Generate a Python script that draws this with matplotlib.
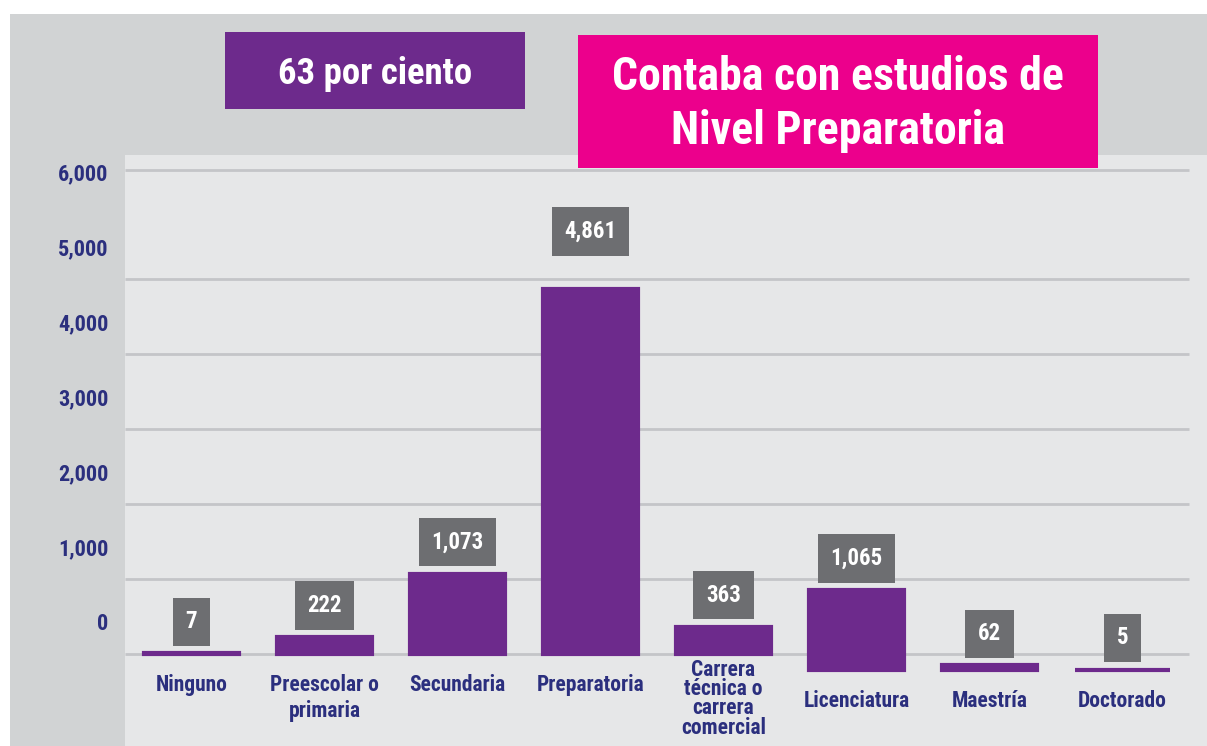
import matplotlib
matplotlib.use("Agg")
import matplotlib.pyplot as plt
from matplotlib.patches import Rectangle
from matplotlib.transforms import ScaledTranslation
from matplotlib import font_manager
import numpy as np

# ---- data ----
categories = ["Ninguno", "Preescolar o\nprimaria", "Secundaria", "Preparatoria",
              "Carrera\ntécnica o\ncarrera\ncomercial", "Licenciatura", "Maestría", "Doctorado"]
values = [7, 222, 1073, 4861, 363, 1065, 62, 5]
value_labels = ["7", "222", "1,073", "4,861", "363", "1,065", "62", "5"]
ytick_values = [0, 1000, 2000, 3000, 4000, 5000, 6000]
ytick_labels = ["0", "1,000", "2,000", "3,000", "4,000", "5,000", "6,000"]
badge_text = "63 por ciento"
headline_text = "Contaba con estudios de\nNivel Preparatoria"

# ---- style ----
names = {f.name for f in font_manager.fontManager.ttflist}
FONT = "DejaVu Sans"
for cand in ["Roboto Condensed", "Liberation Sans Narrow", "Open Sans Condensed",
             "DejaVu Sans Condensed", "Noto Sans Condensed", "Roboto"]:
    if cand in names:
        FONT = cand
        break
plt.rcParams["font.family"] = [FONT, "DejaVu Sans"]

W, H = 1207, 746
PURPLE = "#6d2a8c"
PINK = "#ec008c"
NAVY = "#2b2f7e"
DARK_GRAY = "#d1d3d4"
LIGHT_GRAY = "#e6e7e8"
BOX_GRAY = "#6d6e71"
GRID = "#c4c5c8"

fig = plt.figure(figsize=(W / 100, H / 100), dpi=100)
fig.patch.set_facecolor("white")


def px_rect(x0, y0, x1, y1, color, z=0):
    r = Rectangle((x0 / W, 1 - y1 / H), (x1 - x0) / W, (y1 - y0) / H,
                  transform=fig.transFigure, facecolor=color, edgecolor="none", zorder=z)
    fig.add_artist(r)
    return r


# background panels
px_rect(10, 14, W, H, DARK_GRAY, z=-10)

ax = fig.add_axes([125 / W, 0, (W - 125) / W, (746 - 155) / H])
ax.set_facecolor(LIGHT_GRAY)
for s in ax.spines.values():
    s.set_visible(False)

n = len(values)
x = np.arange(n)
spacing_px = 133.0
ax_w_px = W - 125
ax.set_xlim(-0.5, -0.5 + ax_w_px / spacing_px)
px_per_unit = 0.075  # pixels per value unit
ax.set_ylim(-(746 - 654) / px_per_unit, (654 - 155) / px_per_unit)

# gridlines
frame_top = (654 - 170) / px_per_unit
ax.hlines(ytick_values[:-1] + [frame_top], -0.5, n - 0.5, color=GRID, lw=2, zorder=1)

# bars (last three drawn with lowered baseline as in the original)
shift = np.where(x >= 5, -215, 0)
ax.bar(x, values, width=0.715, bottom=shift, color=PURPLE, edgecolor=PURPLE,
       linewidth=3, zorder=2)

# value boxes
for i, (v, lab) in enumerate(zip(values, value_labels)):
    gap = 430 if i == 3 else 80
    ax.text(i, v + shift[i] + gap + 190, lab, ha="center", va="bottom",
            color="white", fontsize=16.5, fontweight="bold", zorder=4,
            bbox=dict(boxstyle="square,pad=0.55", facecolor=BOX_GRAY, edgecolor="none"))

# category labels
for i, lab in enumerate(categories):
    y = -265 + shift[i]
    ls = 1.22
    if i == 4:
        y = -60
        ls = 0.85
    ax.text(i, y, lab, ha="center", va="top", color=NAVY, fontsize=15.5,
            fontweight="bold", linespacing=ls, zorder=3)

# y ticks
ax.set_xticks([])
ax.set_yticks(ytick_values)
ax.set_yticklabels(ytick_labels)
ax.tick_params(axis="y", length=0, pad=12, labelsize=16, labelcolor=NAVY)
off = ScaledTranslation(0, 0.32, fig.dpi_scale_trans)
for t in ax.get_yticklabels():
    t.set_fontweight("bold")
    t.set_transform(t.get_transform() + off)

# header boxes
px_rect(225, 32, 525, 109, PURPLE, z=5)
fig.text((225 + 525) / 2 / W, 1 - 74 / H, badge_text, ha="center", va="center",
         color="white", fontsize=26.5, fontweight="bold", zorder=6)
px_rect(578, 35, 1098, 168, PINK, z=5)
fig.text((578 + 1098) / 2 / W, 1 - 104 / H, headline_text, ha="center", va="center",
         color="white", fontsize=33, fontweight="bold", linespacing=1.3, zorder=6)

fig.savefig("out.png", dpi=100)
